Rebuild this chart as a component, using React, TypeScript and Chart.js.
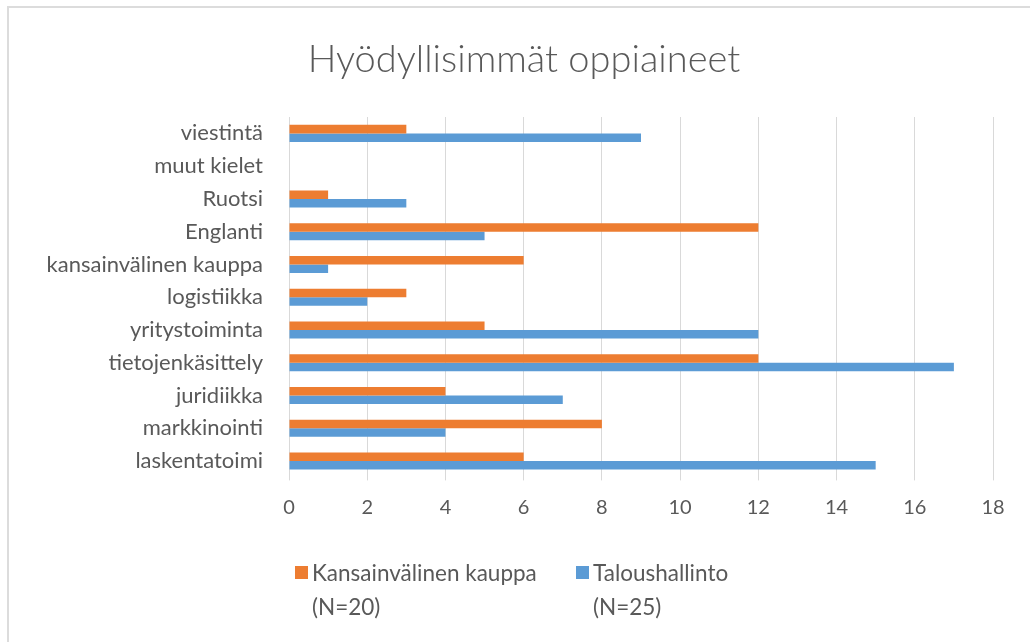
import React, { useEffect, useRef } from "react";
import { Chart, registerables } from "chart.js";

Chart.register(...registerables);

const categories = [
  "viestintä",
  "muut kielet",
  "Ruotsi",
  "Englanti",
  "kansainvälinen kauppa",
  "logistiikka",
  "yritystoiminta",
  "tietojenkäsittely",
  "juridiikka",
  "markkinointi",
  "laskentatoimi",
];
const kansainvalinenKauppa = [3, 0, 1, 12, 6, 3, 5, 12, 4, 8, 6];
const taloushallinto = [9, 0, 3, 5, 1, 2, 12, 17, 7, 4, 15];
const seriesNames = ["Kansainvälinen kauppa", "Taloushallinto"];
const seriesNotes = ["(N=20)", "(N=25)"];
const seriesColors = ["#ED7D31", "#5B9BD5"];
const xMin = 0;
const xMax = 18;
const xStep = 2;
const title = "Hyödyllisimmät oppiaineet";

const TEXT = "#595959";
const FONT = "Lato, 'Open Sans', sans-serif";

export default function App() {
  const ref = useRef<HTMLCanvasElement | null>(null);

  useEffect(() => {
    if (!ref.current) return;
    const chart = new Chart(ref.current, {
      type: "bar",
      data: {
        labels: categories,
        datasets: [
          {
            label: seriesNames[0],
            data: kansainvalinenKauppa,
            backgroundColor: seriesColors[0],
            categoryPercentage: 0.52,
            barPercentage: 1,
          },
          {
            label: seriesNames[1],
            data: taloushallinto,
            backgroundColor: seriesColors[1],
            categoryPercentage: 0.52,
            barPercentage: 1,
          },
        ],
      },
      options: {
        indexAxis: "y",
        responsive: false,
        animation: false,
        devicePixelRatio: 1,
        layout: { padding: { left: 0, right: 37, top: 117, bottom: 0 } },
        plugins: {
          legend: { display: false },
          tooltip: { enabled: false },
          title: { display: false },
        },
        scales: {
          x: {
            min: xMin,
            max: xMax,
            ticks: {
              stepSize: xStep,
              color: TEXT,
              font: { family: FONT, size: 20 },
              padding: 15,
            },
            grid: {
              color: "#d9d9d9",
              lineWidth: 1,
              drawTicks: true,
              tickLength: 3,
            },
            border: { display: false },
            afterFit: (s: any) => {
              s.height = 164.6;
            },
          },
          y: {
            ticks: {
              color: TEXT,
              font: { family: FONT, size: 22 },
              padding: 26,
              autoSkip: false,
            },
            grid: { display: false, drawTicks: false },
            border: { display: false },
            afterFit: (s: any) => {
              s.width = 289;
            },
          },
        },
      },
    });
    return () => chart.destroy();
  }, []);

  const legendText: React.CSSProperties = {
    position: "absolute",
    fontFamily: FONT,
    fontSize: 22.5,
    lineHeight: "34px",
    color: TEXT,
    whiteSpace: "pre",
    top: 556,
  };

  return (
    <div
      style={{
        position: "fixed",
        left: 0,
        top: 0,
        width: 1030,
        height: 642,
        background: "#fff",
        overflow: "hidden",
      }}
    >
      <canvas ref={ref} width={1030} height={642} style={{ position: "absolute", left: 0, top: 0 }} />
      <div
        style={{
          position: "absolute",
          left: 0,
          top: 34,
          width: 1048,
          textAlign: "center",
          fontFamily: FONT,
          fontSize: 38,
          fontWeight: 300,
          lineHeight: "46px",
          color: TEXT,
          whiteSpace: "nowrap",
        }}
      >
        {title}
      </div>
      <div
        style={{
          position: "absolute",
          left: 7,
          top: 6,
          width: 1040,
          height: 660,
          borderTop: "2px solid #dcdcdc",
          borderLeft: "2px solid #dcdcdc",
          pointerEvents: "none",
        }}
      />
      <div style={{ position: "absolute", left: 295, top: 566, width: 13, height: 13, background: seriesColors[0] }} />
      <div style={{ ...legendText, left: 312 }}>
        {seriesNames[0] + "\n" + seriesNotes[0]}
      </div>
      <div style={{ position: "absolute", left: 576, top: 566, width: 13, height: 13, background: seriesColors[1] }} />
      <div style={{ ...legendText, left: 593 }}>
        {seriesNames[1] + "\n" + seriesNotes[1]}
      </div>
    </div>
  );
}
